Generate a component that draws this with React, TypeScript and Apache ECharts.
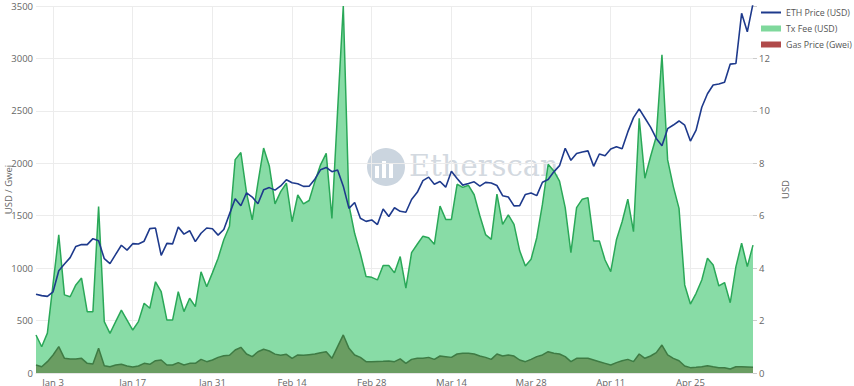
import React, { useEffect, useRef } from "react";
import * as echarts from "echarts";

// ETH price (USD), daily, Dec 31 2020 .. May 6 2021
const ethPrice = [
  751.6, 737.8, 730.4, 774.5, 975.5, 1040.2, 1100.0, 1207.1, 1225.7, 1224.2, 1281.1, 1262.2,
  1090.1, 1043.4, 1130.7, 1218.4, 1171.8, 1233.5, 1230.2, 1257.3, 1377.3, 1382.3,
  1121.6, 1236.5, 1231.0, 1391.6, 1324.4, 1357.1, 1253.2, 1332.5, 1382.5, 1376.1, 1315.0,
  1369.0, 1515.2, 1660.9, 1594.8, 1718.7, 1677.8, 1614.2, 1746.6, 1768.0, 1744.2,
  1783.8, 1843.5, 1814.1, 1805.1, 1779.8, 1781.1, 1848.5, 1937.5, 1960.2, 1919.5,
  1935.6, 1782.0, 1570.2, 1626.6, 1475.7, 1446.0, 1460.0, 1416.0,
  1564.7, 1492.6, 1575.9, 1541.9, 1533.3, 1654.7, 1723.1, 1834.7, 1868.0, 1799.2,
  1826.2, 1772.1, 1924.7, 1854.6, 1791.7, 1807.0, 1823.3, 1782.9, 1817.6, 1812.6,
  1788.2, 1691.3, 1678.6, 1593.4, 1595.4, 1702.8, 1716.5, 1691.4, 1819.7, 1846.0, 1918.4,
  1977.3, 2143.2, 2028.4, 2093.1, 2107.9, 2118.4, 1971.1, 2088.6, 2072.1, 2135.9,
  2157.7, 2139.3, 2299.2, 2435.1, 2519.1, 2432.0, 2344.9, 2237.1, 2166.2, 2330.2,
  2364.8, 2403.5, 2363.6, 2211.6, 2316.1, 2534.5, 2662.9, 2746.4, 2756.9, 2773.2,
  2945.9, 2952.1, 3431.1, 3253.6, 3522.8,
];

// Average transaction fee (USD)
const txFee = [
  1.45, 1.0, 1.52, 3.4, 5.27, 2.98, 2.91, 3.36, 3.62, 2.34, 2.34, 6.35, 1.96, 1.51, 1.96, 2.4,
  2.02, 1.64, 1.96, 2.66, 2.47, 3.48, 3.1, 2.02, 2.02, 3.1, 2.34, 2.85, 2.53, 3.86, 3.29, 3.82,
  4.38, 5.08, 5.6, 8.14, 8.41, 6.87, 5.84, 7.25, 8.58, 7.9, 6.45, 6.92, 7.24, 5.77, 6.79, 6.45,
  6.58, 7.3, 7.94, 8.38, 5.9, 10.0, 14.0, 6.4, 5.32, 4.56, 3.68, 3.65, 3.55, 4.1, 4.1, 3.82,
  4.44, 3.24, 4.59, 4.91, 5.22, 5.16, 4.91, 6.37, 5.86, 5.86, 7.2, 7.08, 7.16, 6.8, 6.0, 5.28,
  5.1, 6.82, 5.67, 6.03, 5.67, 4.66, 4.08, 4.34, 5.16, 6.44, 7.96, 7.71, 7.32, 6.31, 4.59, 6.31,
  6.63, 6.69, 5.04, 5.04, 4.31, 3.87, 5.08, 5.77, 6.63, 5.39, 9.72, 7.43, 8.26, 9.02, 12.14,
  8.13, 7.11, 6.28, 3.36, 2.63, 3.04, 3.55, 4.38, 4.12, 3.32, 3.45, 2.68, 4.06, 4.95, 4.06, 4.88,
];

// Average gas price (Gwei)
const gasPrice = [
  76, 60, 108, 172, 251, 140, 134, 134, 140, 92, 86, 235, 70, 60, 76, 83, 67, 57, 67, 92, 83,
  117, 124, 76, 76, 99, 76, 92, 92, 130, 108, 124, 149, 165, 169, 219, 245, 181, 156, 203, 226,
  210, 180, 169, 178, 140, 172, 169, 175, 181, 194, 203, 140, 251, 363, 235, 172, 149, 108, 108,
  110, 111, 115, 108, 135, 92, 130, 140, 140, 149, 130, 162, 156, 149, 181, 188, 188, 181, 162,
  149, 130, 181, 162, 172, 162, 124, 108, 130, 156, 172, 203, 188, 181, 156, 108, 140, 140, 140,
  124, 108, 92, 76, 99, 117, 130, 108, 181, 140, 162, 194, 267, 172, 140, 117, 67, 51, 54, 60,
  70, 60, 51, 51, 38, 60, 60, 57, 54,
];

const monthNames = ["Jan", "Feb", "Mar", "Apr", "May", "Jun", "Jul", "Aug", "Sep", "Oct", "Nov", "Dec"];
const startDate = Date.UTC(2020, 11, 31);
const categories: string[] = ethPrice.map((_, i) => {
  const d = new Date(startDate + i * 86400000);
  return `${monthNames[d.getUTCMonth()]} ${d.getUTCDate()}`;
});
const labelFirstIndex = 3; // "Jan 3"
const labelStep = 14;

const leftTicks = { min: 0, max: 3500, interval: 500 };
const rightTicks = { min: 0, max: 14, interval: 2 };

export default function App() {
  const ref = useRef<HTMLDivElement>(null);
  useEffect(() => {
    if (!ref.current) return;
    const chart = echarts.init(ref.current, null, { renderer: "svg" });
    const showIdx = (idx: number) => idx >= labelFirstIndex && (idx - labelFirstIndex) % labelStep === 0;
    const font = "'Open Sans', 'DejaVu Sans', sans-serif";
    chart.setOption({
      animation: false,
      textStyle: { fontFamily: font },
      grid: {
        left: 36,
        right: 101,
        top: 6,
        bottom: 13,
        containLabel: false,
        outerBoundsMode: "none",
      },
      legend: {
        orient: "vertical",
        left: 756,
        top: 2,
        itemWidth: 20,
        itemHeight: 6,
        itemGap: 5,
        textStyle: { fontSize: 8.8, color: "#555", fontFamily: font, lineHeight: 11 },
        data: [
          { name: "ETH Price (USD)", icon: "path://M0,0 L20,0 L20,2 L0,2 Z", itemStyle: { color: "#1e3a8c" } },
          { name: "Tx Fee (USD)", icon: "rect", itemStyle: { color: "#7fd89c" } },
          { name: "Gas Price (Gwei)", icon: "rect", itemStyle: { color: "#b04a4a" } },
        ],
      },
      xAxis: {
        type: "category",
        data: categories,
        boundaryGap: false,
        axisLine: { show: true, lineStyle: { color: "#e6e6e6" } },
        axisTick: { show: false },
        axisLabel: {
          interval: (idx: number) => showIdx(idx),
          color: "#666",
          fontSize: 9.5,
          margin: 4,
          fontFamily: font,
        },
        splitLine: {
          show: true,
          interval: (idx: number) => showIdx(idx),
          lineStyle: { color: "#ececec", width: 1 },
        },
      },
      yAxis: [
        {
          type: "value",
          ...leftTicks,
          name: "USD / Gwei",
          nameLocation: "middle",
          nameGap: 23,
          nameMoveOverlap: false,
          nameTextStyle: { color: "#666", fontSize: 9.5, fontFamily: font },
          axisLine: { show: false },
          axisTick: { show: false },
          axisLabel: {
            color: "#666",
            fontSize: 9.5,
            margin: 3,
            fontFamily: font,
            formatter: (v: number) => String(v),
          },
          splitLine: { show: true, lineStyle: { color: "#ececec" } },
        },
        {
          type: "value",
          ...rightTicks,
          position: "right",
          name: "USD",
          nameLocation: "middle",
          nameGap: 27,
          nameMoveOverlap: false,
          nameTextStyle: { color: "#666", fontSize: 9.5, fontFamily: font },
          axisLine: { show: false },
          axisTick: { show: true, length: 4, inside: false, lineStyle: { color: "#ccc" } },
          axisLabel: {
            color: "#666",
            fontSize: 9.5,
            margin: 6,
            fontFamily: font,
            formatter: (v: number) => (v >= 14 ? "" : String(v)),
          },
          splitLine: { show: false },
        },
      ],
      graphic: [
        {
          type: "group",
          left: 367,
          top: 148,
          silent: true,
          z: 0,
          children: [
            { type: "circle", shape: { cx: 19, cy: 19, r: 19 }, style: { fill: "#cbd5df" } },
            { type: "rect", shape: { x: 8, y: 18, width: 4, height: 12 }, style: { fill: "#ffffff" } },
            { type: "rect", shape: { x: 15, y: 13, width: 4, height: 17 }, style: { fill: "#ffffff" } },
            { type: "rect", shape: { x: 22, y: 16, width: 4, height: 14 }, style: { fill: "#ffffff" } },
            {
              type: "text",
              x: 42,
              y: 3,
              style: {
                text: "Etherscan",
                fontSize: 29,
                fontFamily: "'DejaVu Serif', 'Liberation Serif', serif",
                fill: "#d3d9e0",
              },
            },
          ],
        },
      ],
      series: [
        {
          name: "Tx Fee (USD)",
          type: "line",
          yAxisIndex: 1,
          data: txFee,
          showSymbol: false,
          symbol: "none",
          lineStyle: { color: "#2aa858", width: 1.5 },
          itemStyle: { color: "#7fd89c" },
          areaStyle: { color: "#88dca6", opacity: 1 },
          z: 2,
        },
        {
          name: "Gas Price (Gwei)",
          type: "line",
          yAxisIndex: 0,
          data: gasPrice,
          showSymbol: false,
          symbol: "none",
          lineStyle: { color: "#3e7b44", width: 1.5 },
          itemStyle: { color: "#b04a4a" },
          areaStyle: { color: "#6a9d62", opacity: 1 },
          z: 3,
        },
        {
          name: "ETH Price (USD)",
          type: "line",
          yAxisIndex: 0,
          data: ethPrice,
          showSymbol: false,
          symbol: "none",
          lineStyle: { color: "#1e3a8c", width: 1.6 },
          itemStyle: { color: "#1e3a8c" },
          z: 4,
        },
      ],
    });
    return () => chart.dispose();
  }, []);
  return (
    <div
      ref={ref}
      style={{ position: "fixed", left: 0, top: 0, width: 854, height: 386, background: "#fff" }}
    />
  );
}
